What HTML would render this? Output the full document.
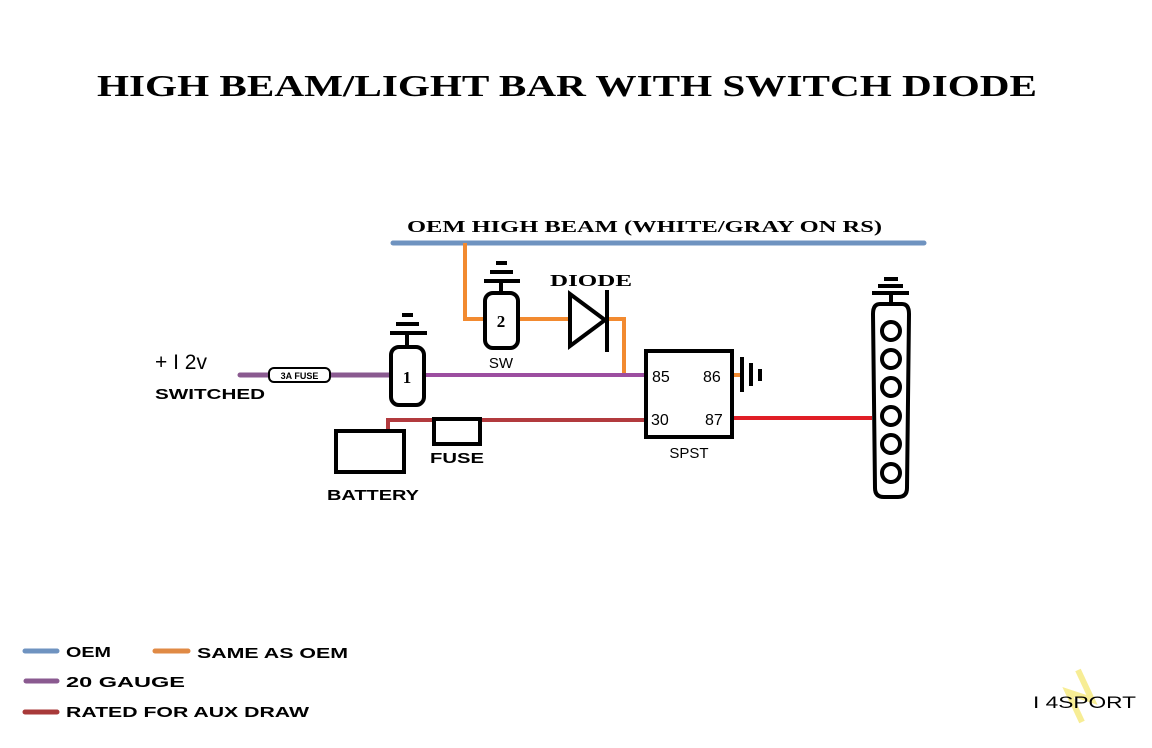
<!DOCTYPE html>
<html><head><meta charset="utf-8"><style>
html,body{margin:0;padding:0;background:#fff;width:1152px;height:748px;overflow:hidden}
svg{display:block}
.s{font-family:"Liberation Serif",serif;font-weight:bold}
.a{font-family:"Liberation Sans",sans-serif;font-weight:bold}
.n{font-family:"Liberation Sans",sans-serif}
</style></head><body>
<svg width="1152" height="748" viewBox="0 0 1152 748" xmlns="http://www.w3.org/2000/svg">
<rect width="1152" height="748" fill="#fff"/>
<text class="s" x="97" y="96" font-size="31" textLength="940" lengthAdjust="spacingAndGlyphs">HIGH BEAM/LIGHT BAR WITH SWITCH DIODE</text>

<!-- OEM blue -->
<text class="s" x="407" y="232" font-size="17" textLength="475" lengthAdjust="spacingAndGlyphs">OEM HIGH BEAM (WHITE/GRAY ON RS)</text>
<line x1="393" y1="243" x2="924" y2="243" stroke="#6f93c0" stroke-width="5" stroke-linecap="round"/>

<!-- orange -->
<polyline points="465,243 465,319 486,319" fill="none" stroke="#f28a30" stroke-width="4"/>
<line x1="518" y1="319" x2="572" y2="319" stroke="#f28a30" stroke-width="4"/>
<polyline points="606,319 624,319 624,375 646,375" fill="none" stroke="#f28a30" stroke-width="4"/>
<line x1="733" y1="375" x2="742" y2="375" stroke="#f28a30" stroke-width="4"/>

<!-- purple -->
<line x1="240" y1="375" x2="392" y2="375" stroke="#8a5a90" stroke-width="5" stroke-linecap="round"/>
<line x1="424" y1="375" x2="645" y2="375" stroke="#9c4ea0" stroke-width="4"/>

<!-- dark red -->
<polyline points="388,432 388,420 645,420" fill="none" stroke="#b23a3e" stroke-width="4"/>
<!-- red 87 -->
<line x1="733" y1="418" x2="872" y2="418" stroke="#e01e26" stroke-width="4"/>

<!-- 3A fuse -->
<rect x="269" y="368" width="61" height="14" rx="5" fill="#fff" stroke="#000" stroke-width="2"/>
<text class="a" x="299.5" y="379" font-size="9" text-anchor="middle">3A FUSE</text>

<text class="n" x="155" y="369" font-size="21">+ I 2v</text>
<text class="a" x="155" y="399" font-size="15" textLength="110" lengthAdjust="spacingAndGlyphs">SWITCHED</text>

<!-- switch 1 -->
<g stroke="#000" stroke-width="4" fill="none">
<line x1="402" y1="315" x2="413" y2="315"/><line x1="396" y1="324" x2="419" y2="324"/><line x1="390" y1="333" x2="427" y2="333"/><line x1="407" y1="333" x2="407" y2="347"/>
<rect x="391" y="347" width="33" height="58" rx="8" fill="#fff"/>
</g>
<text class="s" x="407" y="383" font-size="17" text-anchor="middle">1</text>

<!-- switch 2 -->
<g stroke="#000" stroke-width="4" fill="none">
<line x1="496" y1="263" x2="507" y2="263"/><line x1="490" y1="272" x2="513" y2="272"/><line x1="484" y1="281" x2="520" y2="281"/><line x1="501" y1="281" x2="501" y2="293"/>
<rect x="485" y="293" width="33" height="55" rx="8" fill="#fff"/>
</g>
<text class="s" x="501" y="327" font-size="17" text-anchor="middle">2</text>
<text class="n" x="501" y="368" font-size="15" text-anchor="middle">SW</text>

<!-- diode -->
<text class="s" x="550" y="286" font-size="17" textLength="82" lengthAdjust="spacingAndGlyphs">DIODE</text>
<polygon points="570,294 570,346 605,320" fill="#fff" stroke="#000" stroke-width="4"/>
<line x1="607" y1="290" x2="607" y2="352" stroke="#000" stroke-width="4"/>

<!-- relay -->
<rect x="646" y="351" width="86" height="86" fill="#fff" stroke="#000" stroke-width="4"/>
<text class="n" x="652" y="382" font-size="16">85</text>
<text class="n" x="703" y="382" font-size="16">86</text>
<text class="n" x="651" y="425" font-size="16">30</text>
<text class="n" x="705" y="425" font-size="16">87</text>
<text class="n" x="689" y="458" font-size="15" text-anchor="middle">SPST</text>

<!-- ground -->
<g stroke="#000" stroke-width="4">
<line x1="742" y1="357" x2="742" y2="392"/><line x1="751" y1="363" x2="751" y2="386"/><line x1="760" y1="369" x2="760" y2="381"/>
</g>

<!-- battery & fuse -->
<rect x="336" y="431" width="68" height="41" fill="#fff" stroke="#000" stroke-width="4"/>
<text class="a" x="373" y="500" font-size="15" text-anchor="middle" textLength="92" lengthAdjust="spacingAndGlyphs">BATTERY</text>
<rect x="434" y="419" width="46" height="25" fill="#fff" stroke="#000" stroke-width="4"/>
<text class="a" x="430" y="463" font-size="15" textLength="54" lengthAdjust="spacingAndGlyphs">FUSE</text>

<!-- light bar -->
<g stroke="#000" stroke-width="4" fill="none">
<line x1="884" y1="279" x2="898" y2="279"/><line x1="878" y1="286" x2="903" y2="286"/><line x1="872" y1="293" x2="909" y2="293"/><line x1="891" y1="293" x2="891" y2="304"/>
<path d="M880,304 L902,304 Q909,304 909,314 L907,488 Q907,497 898,497 L884,497 Q875,497 875,488 L873,314 Q873,304 880,304 Z" fill="#fff"/>
<circle cx="891" cy="331" r="9"/><circle cx="891" cy="359" r="9"/><circle cx="891" cy="387" r="9"/><circle cx="891" cy="416" r="9"/><circle cx="891" cy="444" r="9"/><circle cx="891" cy="473" r="9"/>
</g>

<!-- legend -->
<g stroke-width="5" stroke-linecap="round">
<line x1="25" y1="651" x2="57" y2="651" stroke="#6f93c0"/>
<line x1="155" y1="651" x2="188" y2="651" stroke="#e08a45"/>
<line x1="26" y1="681" x2="57" y2="681" stroke="#8a5a90"/>
<line x1="25" y1="712" x2="57" y2="712" stroke="#a83a3a"/>
</g>
<text class="a" x="66" y="657" font-size="15" textLength="45" lengthAdjust="spacingAndGlyphs">OEM</text>
<text class="a" x="197" y="658" font-size="15" textLength="151" lengthAdjust="spacingAndGlyphs">SAME AS OEM</text>
<text class="a" x="66" y="687" font-size="15" textLength="119" lengthAdjust="spacingAndGlyphs">20 GAUGE</text>
<text class="a" x="66" y="717" font-size="15" textLength="243" lengthAdjust="spacingAndGlyphs">RATED FOR AUX DRAW</text>

<!-- logo -->
<path d="M1078,670 L1092,700 L1068,692 L1082,722" fill="none" stroke="#f5e87a" stroke-width="6" opacity="0.8"/>
<text class="n" x="1033" y="708" font-size="17" textLength="103" lengthAdjust="spacingAndGlyphs">I 4SPORT</text>
</svg>
</body></html>
